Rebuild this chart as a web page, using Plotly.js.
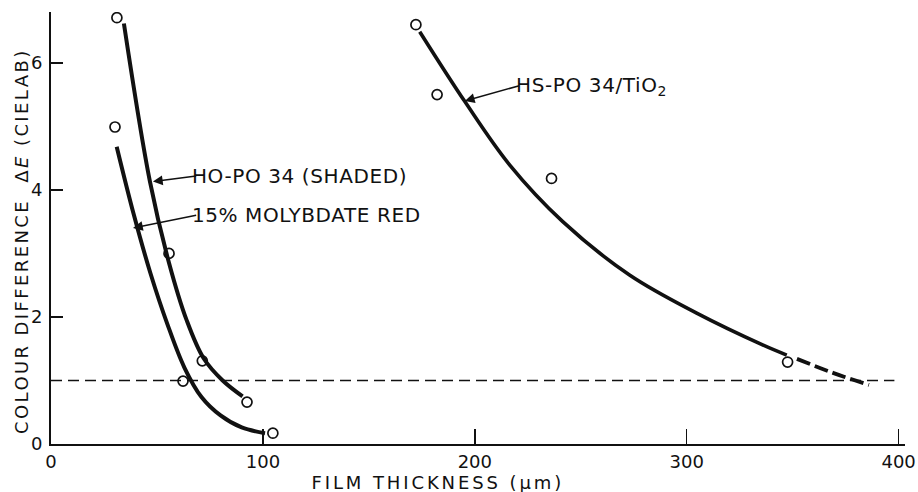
<!DOCTYPE html>
<html>
<head>
<meta charset="utf-8">
<script src="https://cdn.plot.ly/plotly-3.0.1.min.js"></script>
<style>
  html, body { margin: 0; padding: 0; background: #fff; }
  #chart { width: 918px; height: 492px; }
  .annotation[data-index="0"] text { letter-spacing: 2.9px; }
  .annotation[data-index="1"] text { letter-spacing: 2.4px; }
  .annotation[data-index="2"] text, .annotation[data-index="3"] text, .annotation[data-index="4"] text { letter-spacing: 0.6px; }
</style>
</head>
<body>
<div id="chart"></div>
<script>
// ---- data ----
const xTicks = [0, 100, 200, 300, 400];
const yTicks = [0, 2, 4, 6];

// HO-PO 34 (shaded): measured points and fitted curve
const hoPointsX = [31.1, 55.7, 71.4, 92.5];
const hoPointsY = [6.71, 3.00, 1.31, 0.66];
const hoCurveX = [34.4, 46.7, 55.7, 64.0, 72.0, 81.0, 90.4];
const hoCurveY = [6.62, 4.13, 2.85, 1.95, 1.35, 1.00, 0.75];

// 15% molybdate red: measured points and fitted curve
const moPointsX = [30.2, 62.3, 104.7];
const moPointsY = [4.99, 0.99, 0.17];
const moCurveX = [31.0, 39.0, 47.0, 55.0, 63.0, 71.0, 80.0, 90.0, 101.0];
const moCurveY = [4.68, 3.62, 2.68, 1.88, 1.20, 0.74, 0.45, 0.26, 0.17];

// HS-PO 34/TiO2: measured points, fitted curve and dashed extrapolation
const hsPointsX = [172.2, 182.2, 236.2, 347.6];
const hsPointsY = [6.60, 5.50, 4.18, 1.29];
const hsCurveX = [174.0, 195.3, 216.5, 241.5, 273.0, 304.7, 335.8, 347.2];
const hsCurveY = [6.49, 5.39, 4.39, 3.50, 2.66, 2.06, 1.56, 1.40];
const hsExtX = [352, 369, 386];
const hsExtY = [1.34, 1.12, 0.93];

// threshold line dE = 1
const thresholdX = [0, 398];
const thresholdY = [1, 1];

const FONT = 'DejaVu Sans, sans-serif';
const INK = '#111';

function pts(x, y) {
  return { x, y, type: 'scatter', mode: 'markers', hoverinfo: 'skip',
    marker: { symbol: 'circle-open', size: 10, color: INK, line: { width: 1.7, color: INK } } };
}
function curve(x, y, w, dash) {
  return { x, y, type: 'scatter', mode: 'lines', hoverinfo: 'skip',
    line: { color: INK, width: w, shape: 'spline', smoothing: 1, dash: dash || 'solid' } };
}

const traces = [
  { x: thresholdX, y: thresholdY, type: 'scatter', mode: 'lines', hoverinfo: 'skip',
    line: { color: INK, width: 1.5, dash: '11px,6px' } },
  curve(hoCurveX, hoCurveY, 4),
  curve(moCurveX, moCurveY, 4),
  curve(hsCurveX, hsCurveY, 3.6),
  curve(hsExtX, hsExtY, 3.8, '14px,5px'),
  pts(hoPointsX, hoPointsY),
  pts(moPointsX, moPointsY),
  pts(hsPointsX, hsPointsY)
];

function label(text, x, y, ax, ay) {
  return { text, x, y, ax, ay, xref: 'x', yref: 'y', axref: 'x', ayref: 'y',
    xanchor: 'left', yanchor: 'middle', showarrow: true,
    arrowhead: 2, arrowsize: 1.3, arrowwidth: 1.5, arrowcolor: INK, standoff: 0, borderpad: 0,
    font: { family: FONT, size: 20, color: INK } };
}

const layout = {
  width: 918, height: 492,
  margin: { l: 51, r: 13, t: 12, b: 48 },
  paper_bgcolor: '#fff', plot_bgcolor: '#fff',
  showlegend: false,
  font: { family: FONT, color: INK },
  xaxis: {
    range: [0, 403], tickvals: xTicks, ticktext: xTicks.map(String),
    ticks: 'inside', ticklen: 15, tickwidth: 1.5, tickcolor: INK,
    showline: true, linewidth: 2, linecolor: INK, showgrid: false, zeroline: false,
    tickfont: { family: FONT, size: 18, color: INK }, fixedrange: true
  },
  yaxis: {
    range: [0, 6.8], tickvals: yTicks, ticktext: yTicks.map(String),
    ticks: 'inside', ticklen: 12, tickwidth: 1.5, tickcolor: INK,
    showline: true, linewidth: 2, linecolor: INK, showgrid: false, zeroline: false,
    tickfont: { family: FONT, size: 18, color: INK }, ticklabelstandoff: 3, fixedrange: true
  },
  annotations: [
    { text: 'FILM THICKNESS (µm)', xref: 'paper', yref: 'paper', x: 0.453, y: -0.088,
      xanchor: 'center', yanchor: 'middle', showarrow: false,
      font: { family: FONT, size: 18, color: INK } },
    { text: 'COLOUR DIFFERENCE  Δ<i>E</i> (CIELAB)', xref: 'paper', yref: 'paper', x: -0.034, y: 0.47,
      xanchor: 'center', yanchor: 'middle', textangle: -90, showarrow: false,
      font: { family: FONT, size: 18, color: INK } },
    label('HO-PO 34 (SHADED)', 48.1, 4.13, 68.5, 4.22),
    label('15% MOLYBDATE RED', 38.7, 3.40, 68.5, 3.60),
    label('HS-PO 34/TiO<sub>2</sub>', 195.3, 5.40, 221.0, 5.64)
  ]
};

Plotly.newPlot('chart', traces, layout, { staticPlot: true, displayModeBar: false });
</script>
</body>
</html>
